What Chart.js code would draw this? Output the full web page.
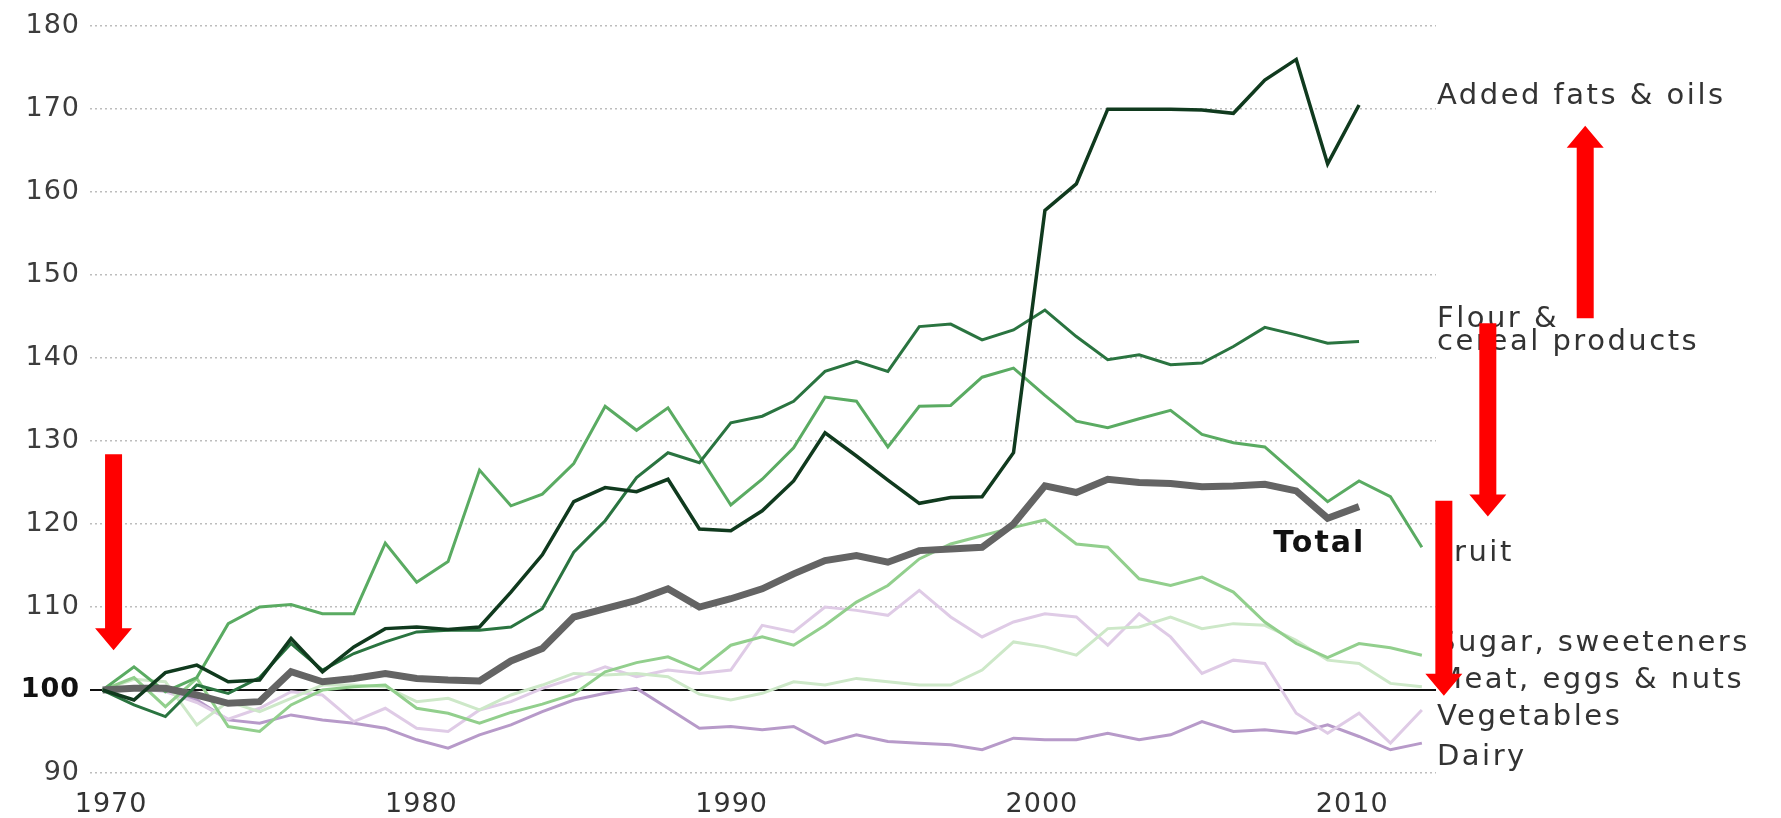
<!DOCTYPE html>
<html>
<head>
<meta charset="utf-8">
<script src="https://cdn.jsdelivr.net/npm/chart.js@4.4.1/dist/chart.umd.min.js"></script>
<style>
  html, body { margin: 0; padding: 0; background: #fff; }
</style>
</head>
<body>
<canvas id="chart" width="1781" height="818"></canvas>
<script>
/* =======================================================
     DATA (index, 1970 = 100)
======================================================= */
const years = [1970,1971,1972,1973,1974,1975,1976,1977,1978,1979,
               1980,1981,1982,1983,1984,1985,1986,1987,1988,1989,
               1990,1991,1992,1993,1994,1995,1996,1997,1998,1999,
               2000,2001,2002,2003,2004,2005,2006,2007,2008,2009,
               2010,2011,2012];

// 1970 - 2010
const addedFats = [100,98.8,102.1,103,101,101.2,106.2,102.2,105.2,107.4,
                   107.6,107.3,107.6,111.8,116.3,122.7,124.4,123.9,125.4,119.4,
                   119.2,121.6,125.2,131,128.2,125.3,122.5,123.2,123.3,128.6,
                   157.8,161,170,170,170,169.9,169.5,173.5,176,163.4,
                   170.5];
const flour = [100,98.2,96.8,100.6,99.6,101.5,105.6,102.4,104.4,105.8,
               107,107.2,107.2,107.6,109.8,116.6,120.4,125.6,128.6,127.4,
               132.2,133,134.8,138.4,139.6,138.4,143.8,144.1,142.2,143.4,
               145.8,142.6,139.8,140.4,139.2,139.4,141.4,143.7,142.8,141.8,
               142];
const total = [100,100.2,100.2,99.4,98.4,98.6,102.2,101,101.4,102,
               101.4,101.2,101.1,103.5,105,108.8,109.8,110.8,112.2,110,
               111,112.2,114,115.6,116.2,115.4,116.8,117,117.2,120,
               124.6,123.8,125.4,125,124.9,124.5,124.6,124.8,124,120.7,
               122.1];

// 1970 - 2012
const fruit = [100,102.8,99.8,101.5,108,110,110.3,109.2,109.2,117.7,
               113,115.5,126.5,122.2,123.6,127.3,134.2,131.3,134,128.2,
               122.3,125.4,129.2,135.3,134.8,129.3,134.2,134.3,137.7,138.8,
               135.5,132.4,131.6,132.7,133.7,130.8,129.8,129.3,126,122.7,
               125.2,123.3,117.2];
const sugar = [100,101.5,98,101.4,95.6,95,98.2,100,100.4,100.6,
               97.8,97.2,96,97.3,98.3,99.5,102.2,103.3,104,102.4,
               105.4,106.4,105.4,107.8,110.6,112.6,115.8,117.6,118.6,119.6,
               120.5,117.6,117.2,113.4,112.6,113.6,111.8,108.2,105.6,103.9,
               105.6,105.1,104.2];
const meat = [100,101.3,101,95.8,98.6,97.4,99,100.6,100.6,100.4,
              98.6,99,97.6,99.4,100.6,102,101.8,102,101.6,99.5,
              98.8,99.6,101,100.6,101.4,101,100.6,100.6,102.4,105.8,
              105.2,104.2,107.4,107.6,108.8,107.4,108,107.8,106,103.6,
              103.2,100.8,100.4];
const vegetables = [100,100.3,99.8,98.5,96.5,97.8,99.8,99.4,96.2,97.8,
                    95.4,95,97.6,98.6,100.2,101.4,102.8,101.6,102.4,102,
                    102.4,107.8,107,110,109.6,109,112,108.8,106.4,108.2,
                    109.2,108.8,105.4,109.2,106.4,102,103.6,103.2,97.2,94.8,
                    97.2,93.6,97.6];
const dairy = [100,100.3,100,98.8,96.4,96,97,96.4,96,95.4,
               94,93,94.6,95.8,97.4,98.8,99.6,100.2,97.8,95.4,
               95.6,95.2,95.6,93.6,94.6,93.8,93.6,93.4,92.8,94.2,
               94,94,94.8,94,94.6,96.2,95,95.2,94.8,95.8,
               94.4,92.8,93.6];

const xTicks = [1970,1980,1990,2000,2010];
const yTicks = [90,100,110,120,130,140,150,160,170,180];

// direct labels at the right end of the lines
const labelNames  = ["Added fats & oils","Flour &","cereal products","Fruit",
                     "Sugar, sweeteners","Meat, eggs & nuts","Vegetables","Dairy"];
const labelLevels = [171.5,144.6,141.9,116.4,105.6,101.1,96.7,91.9];

// red arrows drawn over the chart: year position, start value, tip value
const arrowX    = [1970.35, 2017.2, 2014.1, 2012.7];
const arrowFrom = [128.4, 144.8, 144.2, 122.8];
const arrowTo   = [104.8, 168.0, 120.9, 99.3];

/* =======================================================
     HELPERS
======================================================= */
const FONT = '"DejaVu Sans", sans-serif';

function serie(label, values, color, width) {
  return {
    label,
    data: values.map((v, i) => ({ x: years[i], y: v })),
    borderColor: color,
    borderWidth: width,
    pointRadius: 0,
    tension: 0,
    fill: false
  };
}

/* =======================================================
     LABELS + ARROWS
======================================================= */
const annotations = {
  id: 'annotations',
  beforeDraw(chart) {
    chart.ctx.letterSpacing = '1px';
  },
  afterDraw(chart) {
    const { ctx, chartArea, scales: { x, y } } = chart;
    ctx.save();

    // series names
    ctx.font = '29px ' + FONT;
    ctx.letterSpacing = '2.5px';
    ctx.fillStyle = '#333';
    ctx.textAlign = 'left';
    ctx.textBaseline = 'middle';
    labelNames.forEach((t, i) => {
      ctx.fillText(t, chartArea.right + 1, y.getPixelForValue(labelLevels[i]));
    });

    // Total
    ctx.font = 'bold 30px ' + FONT;
    ctx.letterSpacing = '2px';
    ctx.fillStyle = '#111';
    ctx.textAlign = 'right';
    ctx.fillText('Total', x.getPixelForValue(2010.2), y.getPixelForValue(117.6));

    // arrows
    ctx.fillStyle = '#ff0000';
    arrowX.forEach((a, i) => {
      const px = x.getPixelForValue(a);
      const y0 = y.getPixelForValue(arrowFrom[i]);
      const y1 = y.getPixelForValue(arrowTo[i]);
      const dir = y1 > y0 ? 1 : -1;
      const head = 22, sw = 8.5, hw = 18.5;
      const yb = y1 - dir * head;
      ctx.beginPath();
      ctx.moveTo(px - sw, y0);
      ctx.lineTo(px + sw, y0);
      ctx.lineTo(px + sw, yb);
      ctx.lineTo(px + hw, yb);
      ctx.lineTo(px, y1);
      ctx.lineTo(px - hw, yb);
      ctx.lineTo(px - sw, yb);
      ctx.closePath();
      ctx.fill();
    });

    ctx.restore();
  }
};

/* =======================================================
     CHART
======================================================= */
new Chart(document.getElementById('chart'), {
  type: 'line',
  data: {
    datasets: [
      serie('Added fats & oils', addedFats, '#103a1e', 3.5),
      serie('Flour & cereal products', flour, '#2a7440', 3),
      serie('Total', total, '#646464', 7),
      serie('Fruit', fruit, '#5aab62', 3),
      serie('Sugar, sweeteners', sugar, '#92cf8d', 3),
      serie('Meat, eggs & nuts', meat, '#cde8c8', 3),
      serie('Vegetables', vegetables, '#dfcbe6', 3),
      serie('Dairy', dairy, '#b79ac9', 3)
    ]
  },
  options: {
    responsive: false,
    animation: false,
    layout: { padding: { top: 22, right: 345, left: 0, bottom: 0 } },
    plugins: { legend: { display: false }, tooltip: { enabled: false } },
    scales: {
      // data axis (hidden)
      x: {
        type: 'linear',
        display: false,
        min: 1969.6,
        max: 2012.45
      },
      // year labels, placed as in the original graphic
      xLabels: {
        type: 'linear',
        position: 'bottom',
        min: 1969.32,
        max: 2012.7,
        grid: { display: false },
        border: { display: false },
        afterBuildTicks: s => { s.ticks = xTicks.map(v => ({ value: v })); },
        afterFit: s => { s.height = 45; },
        ticks: {
          font: { family: FONT, size: 27 },
          color: '#333',
          padding: 8,
          callback: v => String(v)
        }
      },
      y: {
        min: 90,
        max: 180,
        afterBuildTicks: s => { s.ticks = yTicks.map(v => ({ value: v })); },
        afterFit: s => { s.width = 90; },
        grid: {
          drawTicks: false,
          color: c => (c.tick && c.tick.value === 100) ? '#111' : '#bdbdbd',
          lineWidth: c => (c.tick && c.tick.value === 100) ? 2 : 1.5
        },
        border: {
          display: false,
          dash: c => (c.tick && c.tick.value === 100) ? [] : [2, 3]
        },
        ticks: {
          padding: 10,
          font: c => ({ family: FONT, size: 27,
                        weight: (c.tick && c.tick.value === 100) ? 'bold' : 'normal' }),
          color: c => (c.tick && c.tick.value === 100) ? '#111' : '#3c3c3c'
        }
      }
    }
  },
  plugins: [annotations]
});
</script>
</body>
</html>
